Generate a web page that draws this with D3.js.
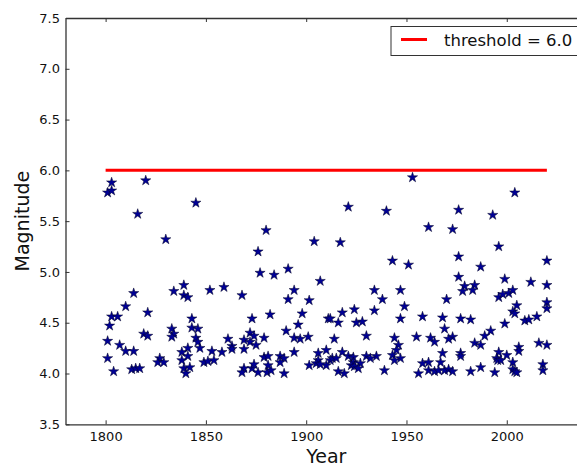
<!DOCTYPE html>
<html>
<head>
<meta charset="utf-8">
<script src="https://cdn.jsdelivr.net/npm/d3@7"></script>
<style>
  body { margin: 0; background: #fff; }
  svg { display: block; font-family: "DejaVu Sans", sans-serif; }
</style>
</head>
<body>
<div id="chart"></div>
<script>
// data
const years = [
  1803, 1801, 1803, 1820, 1816, 1830, 1814, 1834, 1839, 1839, 1841, 1810, 1803, 1806, 1821,
  1802, 1819, 1821, 1833, 1834, 1833, 1801, 1807, 1810, 1814, 1801, 1804, 1813, 1815, 1817,
  1827, 1826, 1829, 1841, 1838, 1838, 1841, 1839, 1840, 1842,
  1845, 1880, 1876, 1877, 1884, 1891, 1852, 1859, 1868, 1894, 1891, 1901.5, 1898, 1882, 1843,
  1873, 1896, 1843, 1846, 1890, 1872, 1874, 1845, 1846, 1861, 1869, 1872, 1875, 1879, 1894,
  1897, 1901, 1847, 1863, 1863, 1869, 1853, 1858, 1894, 1849, 1851, 1854, 1879, 1881, 1887,
  1889, 1887, 1901.5, 1869, 1868, 1873, 1874, 1876, 1881, 1880.5, 1882.5, 1889,
  1953, 1921, 1940, 1961, 1904, 1917, 1943, 1951, 1907, 1934, 1947, 1938,
  1949, 1918, 1924, 1934, 1911, 1912, 1916, 1925, 1928, 1947, 1958, 1914, 1930, 1944, 1955,
  1946, 1945, 1910, 1906, 1918, 1921, 1923.5, 1930, 1935, 1943, 1947, 1932, 1944, 1906, 1905,
  1912, 1913, 1915, 1910, 1907, 1923.5, 1927, 1922.5, 1924, 1926, 1916, 1919, 1939, 1956, 1958,
  1961, 1961,
  2004, 1976, 1993, 1973, 1996, 1976, 2020, 1987, 1976, 1999, 2012, 2020, 1979, 1984, 1978,
  1983, 1970, 1996, 1998, 2001, 2003,
  2005, 2020, 2020, 2003, 2004, 2015, 2009, 2011, 1968, 1977, 1982, 1999, 1969, 1992, 1989,
  1973, 1971, 1962, 1964, 1984, 1987, 2016, 2020, 2006, 2006, 1968, 1977, 1977, 1996, 2000,
  1995, 1995.5, 1997, 1967, 2003, 2018, 1964, 1966, 1969, 1971, 1973, 1982, 1987, 1994, 2003,
  2004, 2005, 2018
]
const magnitudes = [
  5.88, 5.78, 5.80, 5.90, 5.57, 5.32, 4.79, 4.81, 4.87, 4.77, 4.75, 4.66, 4.56, 4.56, 4.60,
  4.47, 4.39, 4.37, 4.44, 4.39, 4.36, 4.32, 4.28, 4.22, 4.22, 4.15, 4.02, 4.04, 4.05, 4.05,
  4.15, 4.11, 4.11, 4.25, 4.21, 4.13, 4.17, 4.05, 4.00, 4.06,
  5.68, 5.41, 5.20, 4.99, 4.97, 5.03, 4.82, 4.85, 4.77, 4.82, 4.73, 4.72, 4.59, 4.58, 4.54,
  4.54, 4.48, 4.45, 4.44, 4.42, 4.40, 4.37, 4.35, 4.31, 4.34, 4.33, 4.31, 4.28, 4.35, 4.35,
  4.34, 4.36, 4.25, 4.27, 4.24, 4.24, 4.22, 4.21, 4.21, 4.11, 4.12, 4.13, 4.16, 4.17, 4.17,
  4.15, 4.11, 4.08, 4.05, 4.01, 4.05, 4.09, 4.01, 4.08, 4.01, 4.03, 4.00,
  5.93, 5.64, 5.60, 5.44, 5.30, 5.29, 5.11, 5.07, 4.91, 4.82, 4.82, 4.73,
  4.66, 4.60, 4.63, 4.62, 4.54, 4.54, 4.50, 4.50, 4.51, 4.54, 4.56, 4.34, 4.37, 4.35, 4.36,
  4.28, 4.23, 4.23, 4.20, 4.21, 4.17, 4.16, 4.17, 4.17, 4.18, 4.15, 4.15, 4.13, 4.13, 4.10,
  4.13, 4.15, 4.15, 4.08, 4.09, 4.11, 4.10, 4.08, 4.07, 4.05, 4.02, 4.00, 4.03, 4.00, 4.10,
  4.11, 4.03,
  5.78, 5.61, 5.56, 5.42, 5.25, 5.15, 5.11, 5.05, 4.95, 4.93, 4.90, 4.87, 4.86, 4.87, 4.81,
  4.82, 4.73, 4.75, 4.78, 4.79, 4.82,
  4.67, 4.70, 4.64, 4.61, 4.59, 4.56, 4.52, 4.53, 4.55, 4.54, 4.53, 4.49, 4.44, 4.42, 4.37,
  4.36, 4.34, 4.35, 4.31, 4.30, 4.28, 4.30, 4.28, 4.26, 4.22, 4.20, 4.20, 4.17, 4.21, 4.18,
  4.15, 4.13, 4.13, 4.11, 4.11, 4.09, 4.02, 4.03, 4.03, 4.04, 4.02, 4.02, 4.06, 4.01, 4.04,
  4.02, 4.01, 4.03
]
const threshold = 6.0
const thresholdYears = [1800, 2020]
const xTicks = [1800, 1850, 1900, 1950, 2000]
const yTicks = [3.5, 4.0, 4.5, 5.0, 5.5, 6.0, 6.5, 7.0, 7.5]

const w = 577, h = 469
const margin = { left: 65.5, top: 18, bottom: 45 }
const plotRight = 587   // axes run a little past the window edge
const bottomY = h - margin.bottom + 0.3

const svg = d3.select('#chart').append('svg').attr('width', w).attr('height', h)

const x = d3.scaleLinear().domain([1780, 2040]).range([margin.left, plotRight])
const y = d3.scaleLinear().domain([3.5, 7.5]).range([bottomY, margin.top])

// threshold line
svg.append('line')
  .attr('x1', x(thresholdYears[0])).attr('x2', x(thresholdYears[1]))
  .attr('y1', y(threshold)).attr('y2', y(threshold))
  .attr('stroke', '#ff0000').attr('stroke-width', 3)

// stars
const star = d3.symbol().type(d3.symbolStar).size(32)
svg.append('g').selectAll('path').data(years).enter().append('path')
  .attr('d', star)
  .attr('transform', (d, i) => `translate(${x(d)}, ${y(magnitudes[i])})`)
  .attr('fill', '#000095').attr('stroke', '#000022').attr('stroke-width', 0.5)

// axes, ticks pointing inward like matplotlib classic
const xAxis = d3.axisBottom(x).tickValues(xTicks).tickFormat(d3.format('d'))
  .tickSizeInner(-4).tickSizeOuter(0).tickPadding(7)
svg.append('g').attr('transform', `translate(0, ${bottomY})`).call(xAxis)
svg.append('g').attr('transform', `translate(0, ${margin.top})`)
  .call(d3.axisTop(x).tickValues(xTicks).tickFormat('').tickSizeInner(-4).tickSizeOuter(0))
const yAxis = d3.axisLeft(y).tickValues(yTicks).tickFormat(d3.format('.1f'))
  .tickSizeInner(-4).tickSizeOuter(0).tickPadding(5.5)
svg.append('g').attr('transform', `translate(${margin.left}, 0)`).call(yAxis)
svg.append('g').attr('transform', `translate(${plotRight}, 0)`)
  .call(d3.axisRight(y).tickValues(yTicks).tickFormat('').tickSizeInner(-4).tickSizeOuter(0))

svg.selectAll('.domain').attr('stroke', '#333').attr('stroke-width', 1.3)
svg.selectAll('.tick line').attr('stroke', '#333')
svg.selectAll('.tick text').attr('font-size', '13px').attr('fill', '#111')
  .attr('font-family', '"DejaVu Sans", sans-serif')

// axis titles
svg.append('text').text('Year')
  .attr('x', (margin.left + plotRight) / 2).attr('y', 463)
  .attr('text-anchor', 'middle').attr('font-size', '19px').attr('fill', '#111')
svg.append('text').text('Magnitude')
  .attr('transform', `translate(28.5, ${(margin.top + bottomY) / 2}) rotate(-90)`)
  .attr('text-anchor', 'middle').attr('font-size', '19px').attr('fill', '#111')

// legend
const lg = svg.append('g').attr('transform', 'translate(391, 26.5)')
lg.append('rect').attr('width', 195).attr('height', 29)
  .attr('fill', '#fff').attr('stroke', '#333').attr('stroke-width', 1)
lg.append('line').attr('x1', 10).attr('x2', 36).attr('y1', 13).attr('y2', 13)
  .attr('stroke', '#ff0000').attr('stroke-width', 3)
lg.append('text').text('threshold = ' + threshold.toFixed(1))
  .attr('x', 53).attr('y', 19.2).attr('font-size', '16.5px').attr('fill', '#111')
</script>
</body>
</html>
